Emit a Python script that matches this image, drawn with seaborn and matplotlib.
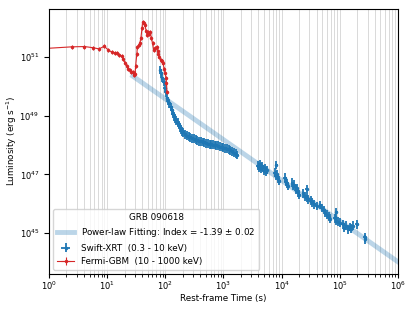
import numpy as np
import pandas as pd
from matplotlib import pyplot as plt
from matplotlib.ticker import NullLocator
import seaborn as sns

# Fermi-GBM (10 - 1000 keV): log10 time, log10 luminosity
gbm_logt = [-0.1, 0.39, 0.61, 0.76, 0.86, 0.95, 1.02, 1.09, 1.13, 1.17, 1.21, 1.25,
            1.28, 1.31, 1.34, 1.36, 1.39, 1.41, 1.44, 1.46, 1.48, 1.49, 1.51, 1.52,
            1.54, 1.56, 1.58, 1.60, 1.61, 1.63, 1.65, 1.67, 1.69, 1.71, 1.72, 1.74,
            1.76, 1.78, 1.80, 1.82, 1.85, 1.87, 1.88, 1.90, 1.92, 1.94, 1.96, 1.98,
            2.00, 2.01, 2.02, 2.03]
gbm_logL = [51.29, 51.35, 51.36, 51.32, 51.28, 51.37, 51.24, 51.16, 51.15, 51.13, 51.08, 51.03,
            50.92, 50.79, 50.68, 50.61, 50.55, 50.48, 50.50, 50.40, 50.44, 50.70, 51.10, 51.35,
            51.40, 51.47, 51.64, 52.00, 52.20, 52.15, 52.09, 51.90, 51.75, 51.85, 51.80, 51.86,
            51.65, 51.47, 51.25, 51.30, 51.35, 51.20, 51.10, 51.00, 50.90, 50.85, 50.80, 50.60,
            50.45, 50.30, 50.10, 49.80]

# Swift-XRT (0.3 - 10 keV)
xrt_logt = [1.91, 1.93, 1.95, 1.97, 1.99, 2.01, 2.03, 2.05, 2.07, 2.09, 2.11, 2.13,
            2.15, 2.17, 2.19, 2.21, 2.23, 2.25, 2.27, 2.29, 2.31, 2.34, 2.37, 2.40,
            2.43, 2.46, 2.49, 2.52, 2.55, 2.58, 2.61, 2.64, 2.67, 2.70, 2.73, 2.76,
            2.79, 2.82, 2.85, 2.88, 2.91, 2.94, 2.97, 3.00, 3.03, 3.06, 3.09, 3.12,
            3.15, 3.18, 3.21, 3.23,
            3.59, 3.61, 3.63, 3.65, 3.67, 3.69, 3.71, 3.73, 3.74,
            3.88, 3.90, 3.91, 3.92, 3.94, 3.96,
            4.05, 4.07, 4.09, 4.11,
            4.18, 4.20, 4.22, 4.24, 4.26, 4.28, 4.30,
            4.37, 4.40, 4.43, 4.43, 4.46, 4.50, 4.53, 4.56, 4.60,
            4.66, 4.69, 4.72, 4.75, 4.78, 4.81, 4.83,
            4.91, 4.94, 4.94, 4.97, 5.00,
            5.05, 5.08, 5.11, 5.14, 5.17, 5.20, 5.22, 5.29,
            5.43, 5.44]
xrt_logL = [50.56, 50.45, 50.30, 50.15, 49.95, 49.80, 49.62, 49.50, 49.42, 49.30, 49.18, 49.07,
            48.98, 48.90, 48.84, 48.76, 48.68, 48.60, 48.53, 48.47, 48.43, 48.37, 48.32, 48.28,
            48.26, 48.23, 48.21, 48.18, 48.16, 48.13, 48.12, 48.10, 48.09, 48.06, 48.05, 48.03,
            48.02, 48.01, 48.00, 47.99, 47.97, 47.94, 47.93, 47.91, 47.89, 47.87, 47.85, 47.82,
            47.78, 47.74, 47.70, 47.66,
            47.30, 47.22, 47.35, 47.18, 47.28, 47.12, 47.20, 47.08, 47.15,
            47.05, 46.95, 47.32, 47.00, 46.85, 46.78,
            46.88, 46.75, 46.68, 46.60,
            46.72, 46.60, 46.65, 46.48, 46.52, 46.38, 46.30,
            46.35, 46.25, 46.50, 46.20, 46.15, 46.10, 46.05, 45.98, 45.92,
            45.95, 45.85, 45.78, 45.68, 45.62, 45.55, 45.48,
            45.50, 45.70, 45.42, 45.38, 45.35,
            45.30, 45.18, 45.25, 45.12, 45.20, 45.15, 45.25, 45.30,
            44.85, 44.78]

# power-law fit
fit_index = -1.39
fit_t = [27.6, 1e6]
fit_logL0 = 50.35

gbm_t = 10**np.array(gbm_logt)
gbm_L = 10**np.array(gbm_logL)
xrt_t = 10**np.array(xrt_logt)
xrt_L = 10**np.array(xrt_logL)


def log_err(v, dex):
    return [v - v * 10**(-dex), v * 10**dex - v]


plt.rcParams['font.size'] = 6.3
plt.rcParams['xtick.labelsize'] = 6
plt.rcParams['ytick.labelsize'] = 6
plt.rcParams['xtick.major.pad'] = 1.2
plt.rcParams['xtick.major.size'] = 3
plt.rcParams['xtick.minor.size'] = 1.8
fig, ax = plt.subplots(figsize=(4.15, 3.12), dpi=100)
fig.subplots_adjust(left=0.118, right=0.959, bottom=0.122, top=0.971)

df_fit = pd.DataFrame({'t': fit_t})
df_fit['L'] = 10**fit_logL0 * (df_fit.t / fit_t[0])**fit_index
sns.lineplot(data=df_fit, x='t', y='L', ax=ax, color='#1f77b4', alpha=0.3, lw=3.5,
             label='Power-law Fitting: Index = -1.39 $\\pm$ 0.02')

ax.errorbar(xrt_t, xrt_L, xerr=log_err(xrt_t, 0.025), yerr=log_err(xrt_L, 0.15),
            fmt='.', ms=3, color='#1f77b4', elinewidth=1.3, label='Swift-XRT  (0.3 - 10 keV)')
ax.errorbar(gbm_t, gbm_L, xerr=log_err(gbm_t, 0.01), yerr=log_err(gbm_L, 0.07),
            fmt='.-', ms=3, lw=0.8, color='#d62728', elinewidth=0.8,
            label='Fermi-GBM  (10 - 1000 keV)')

ax.set_xscale('log')
ax.set_yscale('log')
ax.set_xlim(1, 1e6)
ax.set_ylim(10**43.6, 10**52.64)
ax.set_yticks([1e45, 1e47, 1e49, 1e51])
ax.yaxis.set_minor_locator(NullLocator())
ax.grid(True, which='both', axis='x', color='#d9d9d9', lw=0.7)
ax.set_axisbelow(True)
ax.set_xlabel('Rest-frame Time (s)', labelpad=1.5)
ax.set_ylabel('Luminosity (erg s$^{-1}$)', labelpad=0)
ax.legend(title='GRB 090618', loc='lower left', fontsize=6.3, title_fontsize=6.3)

plt.savefig('out.png')
